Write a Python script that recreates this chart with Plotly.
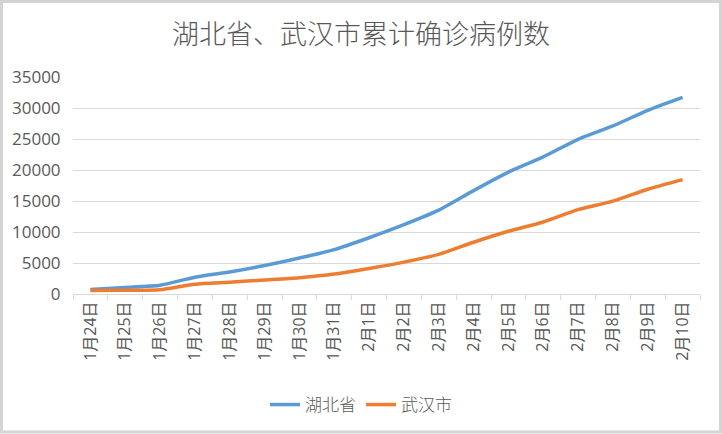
import plotly.graph_objects as go

dates = ["1月24日", "1月25日", "1月26日", "1月27日", "1月28日", "1月29日", "1月30日",
         "1月31日", "2月1日", "2月2日", "2月3日", "2月4日", "2月5日", "2月6日",
         "2月7日", "2月8日", "2月9日", "2月10日"]
hubei = [729, 1052, 1423, 2714, 3554, 4586, 5806, 7153, 9074, 11177, 13522,
         16678, 19665, 22112, 24953, 27100, 29631, 31728]
wuhan = [572, 618, 698, 1590, 1905, 2261, 2639, 3215, 4109, 5142, 6384,
         8351, 10117, 11618, 13603, 14982, 16902, 18454]
y_ticks = [0, 5000, 10000, 15000, 20000, 25000, 30000, 35000]

W, H = 722, 434
L, R, T, B = 73, 22, 77, 140
pw, ph = W - L - R, H - T - B

txt = "#595959"
grid = "#D9D9D9"

fig = go.Figure()
fig.add_trace(go.Scatter(x=dates, y=hubei, name="湖北省", mode="lines",
                         line=dict(color="#5B9BD5", width=3.5, shape="spline", smoothing=0.6)))
fig.add_trace(go.Scatter(x=dates, y=wuhan, name="武汉市", mode="lines",
                         line=dict(color="#ED7D31", width=3.5, shape="spline", smoothing=0.6)))

def px_x(p):
    return (p - L) / pw

def px_y(p):
    return (H - B - p) / ph

fig.add_shape(type="rect", xref="paper", yref="paper",
              x0=px_x(1.5), x1=px_x(W - 1.5), y0=px_y(H - 2), y1=px_y(1.5),
              line=dict(color="#D4D4D4", width=3), fillcolor="rgba(0,0,0,0)", layer="below")

fig.update_layout(
    width=W, height=H,
    margin=dict(l=L, r=R, t=T, b=B),
    paper_bgcolor="white", plot_bgcolor="white",
    font=dict(family="Open Sans, Noto Sans CJK SC", color=txt, size=15),
    title=dict(text="湖北省、武汉市累计确诊病例数", x=0.5, xref="container",
               y=1 - 35 / H, yref="container", xanchor="center", yanchor="middle",
               font=dict(family="Noto Sans CJK SC", size=27, color=txt, weight=300)),
    showlegend=True,
    legend=dict(orientation="h", xref="container", x=0.5, xanchor="center",
                yref="container", y=1 - 405 / H, yanchor="middle",
                font=dict(family="Noto Sans CJK SC", size=17, color=txt, weight=300),
                itemwidth=30, tracegroupgap=0),
)
fig.update_xaxes(type="category", range=[-0.5, len(dates) - 0.5],
                 tickangle=-90, tickson="boundaries", ticks="outside", ticklen=5,
                 tickcolor=grid, showline=True, linecolor=grid, linewidth=1,
                 showgrid=False, tickfont=dict(family="Open Sans, Noto Sans CJK SC", size=16, color=txt))
fig.update_yaxes(range=[0, 35000], tickvals=y_ticks, ticktext=[str(v) for v in y_ticks],
                 showgrid=True, gridcolor=grid, gridwidth=1, zeroline=False,
                 ticks="outside", ticklen=8, tickcolor="rgba(0,0,0,0)",
                 tickfont=dict(family="Open Sans", size=17, color=txt))

fig.write_html("out.html", config={"displayModeBar": False},
               post_script="document.body.style.margin='0';")
